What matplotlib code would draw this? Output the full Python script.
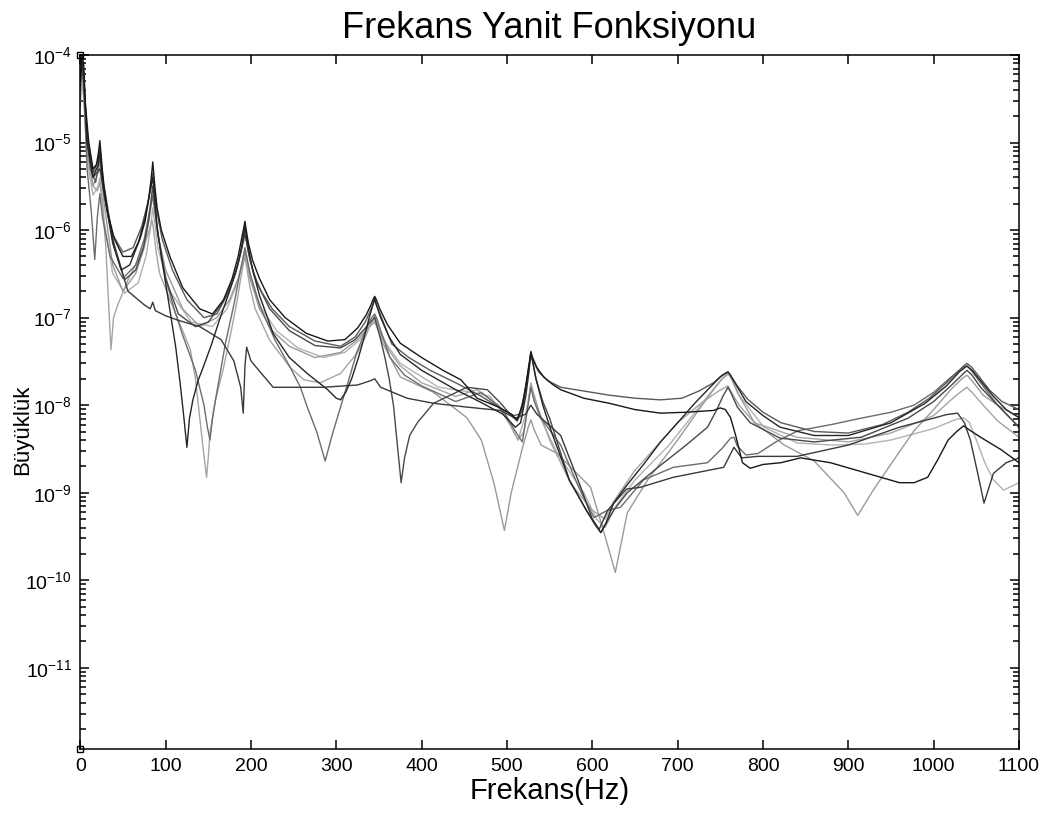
import matplotlib
matplotlib.use("Agg")
import matplotlib.pyplot as plt
from matplotlib.ticker import LogLocator, FixedLocator, NullLocator, LogFormatterSciNotation

plt.rcParams['font.family'] = ['Liberation Sans', 'DejaVu Sans']
plt.rcParams['mathtext.fontset'] = 'custom'
plt.rcParams['mathtext.rm'] = 'Liberation Sans'
plt.rcParams['mathtext.it'] = 'Liberation Sans:italic'
plt.rcParams['mathtext.bf'] = 'Liberation Sans:bold'
plt.rcParams['mathtext.default'] = 'regular'
plt.rcParams['axes.unicode_minus'] = False

# Frequency response magnitudes for nine measurement points (Hz, magnitude)
freq_k1 = [0, 2, 4, 6, 10, 15, 19, 21.5, 23, 24.5, 27, 32, 40, 50, 60, 70, 76, 80, 83, 85, 87,
           90, 95, 105, 120, 140, 155, 168, 178, 185, 189, 191.5, 193, 194.5, 197, 202, 210,
           222, 240, 265, 290, 310, 325, 335, 340, 343, 345, 347, 351, 360, 375, 400, 425,
           446, 465, 490, 505, 512, 518, 523, 526, 528, 530, 535, 543, 553, 563, 590, 620,
           650, 680, 710, 742, 750, 756, 762, 768, 776, 785, 800, 821, 844, 879, 910, 938,
           960, 977, 993, 1005, 1017, 1027, 1035, 1042, 1055, 1079, 1100]
mag_k1 = [5.6e-5, 1.0e-4, 7.9e-5, 2.8e-5, 1.0e-5, 5.0e-6, 5.6e-6, 7.9e-6, 1.05e-5, 7.1e-6,
          3.5e-6, 1.6e-6, 7.9e-7, 5.0e-7, 5.0e-7, 7.9e-7, 1.26e-6, 2.2e-6, 3.8e-6, 6.0e-6,
          3.5e-6, 1.8e-6, 1.0e-6, 5.0e-7, 2.2e-7, 1.26e-7, 1.1e-7, 1.6e-7, 2.8e-7, 5.0e-7,
          7.9e-7, 1.05e-6, 1.26e-6, 1.0e-6, 7.1e-7, 4.5e-7, 2.8e-7, 1.6e-7, 1.0e-7, 6.6e-8,
          5.4e-8, 5.6e-8, 7.6e-8, 1.07e-7, 1.35e-7, 1.6e-7, 1.75e-7, 1.6e-7, 1.26e-7, 8.3e-8,
          5.1e-8, 3.5e-8, 2.5e-8, 1.95e-8, 1.2e-8, 9.5e-9, 7.9e-9, 6.8e-9, 1.0e-8, 1.9e-8,
          3.0e-8, 4.1e-8, 3.5e-8, 2.7e-8, 2.1e-8, 1.74e-8, 1.5e-8, 1.2e-8, 1.05e-8, 8.9e-9,
          8.1e-9, 8.3e-9, 8.7e-9, 9.3e-9, 8.9e-9, 7.2e-9, 4.5e-9, 2.2e-9, 1.9e-9, 2.1e-9,
          2.2e-9, 2.5e-9, 2.2e-9, 1.8e-9, 1.5e-9, 1.3e-9, 1.3e-9, 1.5e-9, 2.4e-9, 4.0e-9,
          5.0e-9, 5.8e-9, 5.2e-9, 4.3e-9, 3.1e-9, 2.2e-9]

freq_k2 = [0, 2, 4, 7, 12, 18, 21.5, 23, 24.5, 28, 38, 50, 62, 72, 79, 83, 85, 87, 90, 96,
           108, 125, 145, 160, 172, 182, 188, 191.5, 193, 194.5, 197, 203, 212, 225, 245,
           275, 305, 322, 334, 340, 343, 345, 347, 352, 365, 385, 410, 440, 470, 495, 508,
           515, 521, 525, 528, 531, 537, 548, 563, 590, 620, 650, 680, 705, 725, 742, 752,
           759, 763, 770, 782, 800, 821, 860, 900, 940, 970, 995, 1015, 1028, 1035, 1039,
           1044, 1052, 1065, 1080, 1100]
mag_k2 = [4.0e-5, 7.1e-5, 5.0e-5, 1.6e-5, 5.0e-6, 3.5e-6, 5.6e-6, 7.1e-6, 5.0e-6, 2.5e-6,
          8.9e-7, 5.6e-7, 6.3e-7, 1.1e-6, 2.0e-6, 3.2e-6, 4.5e-6, 2.8e-6, 1.6e-6, 7.9e-7,
          3.5e-7, 1.6e-7, 1.0e-7, 1.1e-7, 1.8e-7, 3.2e-7, 5.6e-7, 8.3e-7, 1.0e-6, 7.9e-7,
          5.6e-7, 3.2e-7, 2.0e-7, 1.26e-7, 7.9e-8, 5.4e-8, 4.7e-8, 6.0e-8, 8.9e-8, 1.2e-7,
          1.4e-7, 1.6e-7, 1.4e-7, 1.07e-7, 5.0e-8, 3.5e-8, 2.5e-8, 1.8e-8, 1.26e-8, 8.9e-9,
          7.6e-9, 7.9e-9, 1.4e-8, 2.5e-8, 3.8e-8, 3.2e-8, 2.4e-8, 1.9e-8, 1.6e-8, 1.45e-8,
          1.3e-8, 1.2e-8, 1.15e-8, 1.2e-8, 1.45e-8, 1.8e-8, 2.2e-8, 2.4e-8, 2.1e-8, 1.66e-8,
          1.17e-8, 8.3e-9, 6.3e-9, 5.0e-9, 4.8e-9, 6.0e-9, 8.3e-9, 1.2e-8, 1.8e-8, 2.4e-8,
          2.8e-8, 3.0e-8, 2.75e-8, 2.2e-8, 1.5e-8, 1.1e-8, 8.9e-9]

freq_k3 = [0, 2, 4, 8, 15, 21, 23, 25, 30, 38, 48, 58, 68, 76, 81, 85, 87, 90, 95, 100, 105,
           112, 117, 121, 125, 128, 132, 138, 144, 154, 164, 175, 184, 189, 191.5, 193, 194.5,
           197, 202, 210, 226, 245, 266, 290, 300, 305, 311, 318, 326, 332, 338, 342, 345, 347,
           352, 362, 375, 400, 440, 470, 495, 510, 516, 522, 526, 528, 530, 534, 542, 552, 573,
           593, 604, 610, 616, 625, 640, 660, 680, 700, 720, 738, 750, 756, 759, 762, 768, 780,
           800, 820, 860, 900, 950, 990, 1015, 1030, 1039, 1045, 1055, 1070, 1085, 1100]
mag_k3 = [5.0e-5, 8.9e-5, 6.3e-5, 1.0e-5, 4.0e-6, 5.6e-6, 7.9e-6, 5.0e-6, 2.0e-6, 7.1e-7,
          3.5e-7, 4.0e-7, 7.1e-7, 1.4e-6, 2.5e-6, 4.0e-6, 2.5e-6, 1.1e-6, 5.0e-7, 2.5e-7,
          1.23e-7, 4.5e-8, 1.8e-8, 7.9e-9, 3.3e-9, 7.1e-9, 1.15e-8, 1.9e-8, 2.7e-8, 5.0e-8,
          1.0e-7, 2.0e-7, 3.8e-7, 6.3e-7, 8.9e-7, 1.1e-6, 8.9e-7, 6.3e-7, 3.5e-7, 1.8e-7,
          6.6e-8, 3.5e-8, 2.3e-8, 1.5e-8, 1.2e-8, 1.15e-8, 1.4e-8, 2.0e-8, 3.5e-8, 5.6e-8,
          9.5e-8, 1.3e-7, 1.66e-7, 1.4e-7, 1.0e-7, 6.0e-8, 3.8e-8, 2.5e-8, 1.5e-8, 1.07e-8,
          7.9e-9, 5.6e-9, 6.3e-9, 1.26e-8, 2.5e-8, 4.0e-8, 3.2e-8, 2.0e-8, 1.0e-8, 5.0e-9,
          1.4e-9, 6.3e-10, 4.2e-10, 3.5e-10, 4.5e-10, 7.6e-10, 1.2e-9, 2.1e-9, 3.8e-9, 6.3e-9,
          1.05e-8, 1.6e-8, 2.1e-8, 2.3e-8, 2.4e-8, 2.2e-8, 1.74e-8, 1.1e-8, 7.6e-9, 5.6e-9,
          4.5e-9, 4.5e-9, 6.3e-9, 1.05e-8, 1.66e-8, 2.4e-8, 2.8e-8, 2.5e-8, 1.9e-8, 1.26e-8,
          8.9e-9, 7.2e-9]

freq_k4 = [0, 2, 4, 8, 15, 20, 23, 26, 30, 33, 36, 39, 44, 56, 68, 76, 81, 84, 86, 89, 93,
           105, 118, 129, 135, 140, 144, 148, 150, 152, 158, 168, 177, 184, 188, 191, 193, 195,
           199, 205, 222, 246, 262, 281, 305, 325, 335, 341, 345, 348, 354, 362, 375, 400, 440,
           465, 490, 505, 513, 520, 525, 528, 531, 537, 550, 575, 600, 615, 625, 650, 700, 730,
           748, 756, 759, 763, 772, 790, 840, 900, 950, 1000, 1025, 1035, 1039, 1045, 1058,
           1075, 1100]
mag_k4 = [3.2e-5, 6.3e-5, 4.0e-5, 7.9e-6, 3.2e-6, 2.8e-6, 3.5e-6, 2.0e-6, 6.3e-7, 1.6e-7,
          4.3e-8, 1.0e-7, 1.4e-7, 2.7e-7, 4.6e-7, 7.1e-7, 1.0e-6, 1.3e-6, 1.0e-6, 5.6e-7,
          3.2e-7, 1.6e-7, 7.9e-8, 4.3e-8, 2.0e-8, 7.2e-9, 3.2e-9, 1.5e-9, 2.5e-9, 4.8e-9,
          1.1e-8, 2.7e-8, 7.1e-8, 1.6e-7, 2.8e-7, 4.0e-7, 5.0e-7, 3.8e-7, 2.2e-7, 1.26e-7,
          5.5e-8, 2.7e-8, 1.95e-8, 1.8e-8, 2.3e-8, 4.0e-8, 6.3e-8, 8.7e-8, 1.05e-7, 8.9e-8,
          6.3e-8, 4.2e-8, 2.8e-8, 1.8e-8, 1.26e-8, 1.5e-8, 1.0e-8, 5.6e-9, 4.0e-9, 5.0e-9,
          1.1e-8, 1.8e-8, 1.4e-8, 8.9e-9, 4.0e-9, 1.26e-9, 6.3e-10, 5.0e-10, 7.9e-10, 1.8e-9,
          6.3e-9, 1.1e-8, 1.45e-8, 1.6e-8, 1.66e-8, 1.4e-8, 1.0e-8, 6.3e-9, 4.3e-9, 3.8e-9,
          4.8e-9, 7.6e-9, 1.26e-8, 1.5e-8, 1.6e-8, 1.4e-8, 1.0e-8, 6.6e-9, 4.3e-9]

freq_k5 = [0, 2, 4, 8, 13, 17, 20, 23, 26, 35, 50, 65, 75, 81, 85, 87, 91, 100, 110, 120, 135,
           145, 149, 152, 155, 160, 170, 180, 187, 191, 193, 195, 199, 210, 228, 246, 258, 266,
           277, 287, 295, 305, 315, 324, 333, 340, 345, 348, 353, 363, 380, 400, 440, 470, 495,
           510, 518, 524, 528, 532, 540, 563, 585, 602, 618, 633, 660, 695, 735, 752, 762, 766,
           770, 780, 794, 815, 841, 880, 915, 950, 977, 1000, 1018, 1030, 1036, 1039, 1044,
           1055, 1075, 1100]
mag_k5 = [7.9e-5, 8.9e-5, 5.0e-5, 5.0e-6, 1.6e-6, 4.6e-7, 1.4e-6, 2.6e-6, 1.4e-6, 5.0e-7,
          2.8e-7, 4.0e-7, 7.9e-7, 1.6e-6, 2.5e-6, 1.8e-6, 8.9e-7, 2.8e-7, 1.26e-7, 6.3e-8,
          2.5e-8, 1.0e-8, 5.6e-9, 4.0e-9, 7.1e-9, 1.4e-8, 5.0e-8, 1.4e-7, 3.2e-7, 5.0e-7,
          6.3e-7, 5.0e-7, 3.2e-7, 1.4e-7, 5.6e-8, 2.7e-8, 1.6e-8, 9.5e-9, 5.0e-9, 2.3e-9,
          4.5e-9, 9.5e-9, 2.0e-8, 4.0e-8, 6.6e-8, 9.5e-8, 1.1e-7, 9.5e-8, 6.6e-8, 3.5e-8,
          2.2e-8, 1.66e-8, 1.1e-8, 1.4e-8, 8.9e-9, 5.0e-9, 3.8e-9, 8.9e-9, 1.6e-8, 1.1e-8,
          7.1e-9, 3.5e-9, 1.1e-9, 5.2e-10, 6.3e-10, 6.8e-10, 1.4e-9, 1.95e-9, 2.2e-9, 3.2e-9,
          4.2e-9, 4.3e-9, 3.4e-9, 2.7e-9, 2.8e-9, 3.8e-9, 5.1e-9, 6.0e-9, 7.1e-9, 8.3e-9,
          1.0e-8, 1.4e-8, 2.0e-8, 2.5e-8, 2.75e-8, 2.8e-8, 2.5e-8, 1.8e-8, 1.0e-8, 5.6e-9]

freq_k6 = [0, 3, 8, 15, 23, 30, 40, 56, 75, 82, 85, 88, 100, 115, 140, 165, 180, 188, 191, 193,
           195, 200, 226, 250, 285, 325, 340, 345, 352, 383, 414, 453, 492, 510, 522, 528,
           535, 563, 585, 600, 608, 618, 640, 656, 695, 754, 766, 775, 794, 840, 900, 960,
           1000, 1015, 1028, 1036, 1043, 1052, 1059, 1070, 1085, 1100]
mag_k6 = [6.3e-5, 7.9e-5, 1.0e-5, 4.0e-6, 5.0e-6, 2.0e-6, 6.3e-7, 2.0e-7, 1.4e-7, 1.26e-7,
          1.5e-7, 1.2e-7, 1.05e-7, 9.3e-8, 7.9e-8, 5.6e-8, 3.2e-8, 1.6e-8, 8.1e-9, 2.8e-8,
          4.6e-8, 3.2e-8, 1.6e-8, 1.6e-8, 1.6e-8, 1.7e-8, 1.9e-8, 2.0e-8, 1.6e-8, 1.2e-8,
          1.05e-8, 9.5e-9, 8.7e-9, 7.1e-9, 7.9e-9, 1.0e-8, 7.9e-9, 4.5e-9, 1.26e-9, 5.0e-10,
          3.8e-10, 6.3e-10, 1.1e-9, 1.15e-9, 1.5e-9, 1.95e-9, 3.3e-9, 2.5e-9, 2.6e-9, 2.6e-9,
          3.5e-9, 5.6e-9, 7.1e-9, 7.8e-9, 8.1e-9, 6.3e-9, 4.0e-9, 1.6e-9, 7.6e-10, 1.66e-9,
          2.2e-9, 2.5e-9]

freq_k7 = [0, 2, 4, 8, 15, 21, 23, 25, 28, 38, 52, 65, 74, 80, 85, 87, 91, 100, 115, 135, 150,
           165, 178, 186, 190, 193, 195, 199, 207, 222, 245, 275, 305, 322, 333, 340, 345, 348,
           352, 357, 362, 367, 371, 376, 380, 386, 395, 414, 453, 477, 492, 505, 512, 518, 523,
           526, 528, 530, 534, 542, 550, 573, 593, 610, 625, 641, 677, 710, 735, 746, 753, 759,
           763, 770, 785, 820, 860, 915, 970, 1000, 1020, 1033, 1039, 1045, 1055, 1075, 1100]
mag_k7 = [4.5e-5, 7.9e-5, 5.6e-5, 1.26e-5, 4.5e-6, 6.3e-6, 8.9e-6, 5.6e-6, 3.2e-6, 7.9e-7,
          2.7e-7, 3.5e-7, 6.3e-7, 1.26e-6, 3.2e-6, 2.0e-6, 8.9e-7, 2.8e-7, 1.1e-7, 7.9e-8,
          8.9e-8, 1.4e-7, 2.5e-7, 4.5e-7, 6.6e-7, 8.9e-7, 7.1e-7, 4.5e-7, 2.5e-7, 1.26e-7,
          7.1e-8, 4.8e-8, 4.5e-8, 5.6e-8, 7.4e-8, 8.9e-8, 1.0e-7, 7.9e-8, 5.6e-8, 3.5e-8,
          2.0e-8, 1.0e-8, 4.0e-9, 1.3e-9, 2.5e-9, 4.5e-9, 6.3e-9, 1.05e-8, 1.6e-8, 1.5e-8,
          1.07e-8, 7.6e-9, 6.6e-9, 8.9e-9, 1.8e-8, 2.8e-8, 3.8e-8, 3.2e-8, 2.0e-8, 1.1e-8,
          7.1e-9, 1.4e-9, 6.3e-10, 3.5e-10, 6.3e-10, 1.0e-9, 1.95e-9, 3.5e-9, 5.6e-9, 8.9e-9,
          1.26e-8, 1.6e-8, 1.35e-8, 9.5e-9, 6.3e-9, 4.2e-9, 3.8e-9, 4.3e-9, 7.1e-9, 1.1e-8,
          1.66e-8, 2.2e-8, 2.5e-8, 2.2e-8, 1.6e-8, 1.0e-8, 5.6e-9]

freq_k8 = [0, 2, 4, 8, 15, 21, 23, 25, 28, 38, 50, 65, 75, 81, 85, 87, 91, 100, 120, 140, 160,
           175, 185, 190, 193, 195, 199, 210, 225, 245, 275, 305, 325, 337, 345, 348, 355, 375,
           414, 453, 470, 485, 497, 505, 518, 525, 528, 532, 540, 559, 598, 612, 627, 641, 665,
           700, 725, 742, 752, 759, 763, 770, 790, 825, 860, 895, 911, 930, 955, 977, 1000,
           1020, 1033, 1039, 1045, 1058, 1075, 1100]
mag_k8 = [4.0e-5, 6.3e-5, 4.5e-5, 7.9e-6, 3.2e-6, 4.5e-6, 6.3e-6, 4.0e-6, 2.0e-6, 4.0e-7,
          2.0e-7, 3.2e-7, 6.3e-7, 1.4e-6, 2.5e-6, 1.8e-6, 8.9e-7, 3.5e-7, 1.26e-7, 7.9e-8,
          1.0e-7, 1.6e-7, 2.8e-7, 4.2e-7, 5.6e-7, 4.5e-7, 2.8e-7, 1.26e-7, 7.1e-8, 4.7e-8,
          3.5e-8, 4.0e-8, 5.6e-8, 7.6e-8, 8.9e-8, 7.6e-8, 5.0e-8, 2.1e-8, 1.4e-8, 7.2e-9,
          4.0e-9, 1.26e-9, 3.7e-10, 1.0e-9, 3.2e-9, 5.6e-9, 6.8e-9, 5.2e-9, 3.5e-9, 2.8e-9,
          1.15e-9, 4.0e-10, 1.23e-10, 5.9e-10, 1.4e-9, 4.0e-9, 8.9e-9, 1.5e-8, 2.0e-8, 2.3e-8,
          2.0e-8, 1.4e-8, 6.3e-9, 3.5e-9, 2.3e-9, 1.0e-9, 5.5e-10, 1.1e-9, 2.5e-9, 5.1e-9,
          8.9e-9, 1.5e-8, 2.0e-8, 2.2e-8, 1.9e-8, 1.3e-8, 1.0e-8, 7.2e-9]

freq_k9 = [0, 2, 4, 8, 15, 21, 23, 25, 28, 38, 52, 68, 77, 82, 85, 87, 91, 105, 130, 155, 172,
           184, 190, 193, 195, 199, 212, 230, 255, 285, 310, 328, 338, 345, 348, 355, 375, 420,
           460, 480, 500, 513, 522, 526, 528, 531, 537, 559, 590, 605, 615, 628, 650, 690, 715,
           735, 750, 760, 764, 772, 785, 801, 840, 880, 920, 950, 1000, 1025, 1035, 1042, 1050,
           1060, 1070, 1082, 1100]
mag_k9 = [2.5e-5, 5.0e-5, 3.2e-5, 6.3e-6, 2.5e-6, 3.2e-6, 4.0e-6, 2.8e-6, 1.26e-6, 3.2e-7,
          1.9e-7, 2.5e-7, 5.0e-7, 1.0e-6, 1.8e-6, 1.26e-6, 6.3e-7, 2.0e-7, 8.9e-8, 7.9e-8,
          1.26e-7, 2.5e-7, 4.2e-7, 5.6e-7, 4.5e-7, 2.8e-7, 1.3e-7, 7.1e-8, 4.5e-8, 3.5e-8,
          4.0e-8, 5.6e-8, 7.6e-8, 9.5e-8, 7.9e-8, 5.6e-8, 3.0e-8, 1.6e-8, 1.4e-8, 1.26e-8,
          7.1e-9, 4.0e-9, 7.9e-9, 1.3e-8, 1.66e-8, 1.3e-8, 7.9e-9, 2.8e-9, 1.0e-9, 5.0e-10,
          4.0e-10, 7.1e-10, 1.4e-9, 3.5e-9, 7.1e-9, 1.26e-8, 1.9e-8, 2.3e-8, 2.0e-8, 1.3e-8,
          8.9e-9, 5.6e-9, 3.7e-9, 3.5e-9, 3.6e-9, 4.0e-9, 5.4e-9, 6.8e-9, 7.2e-9, 6.3e-9,
          4.0e-9, 2.2e-9, 1.4e-9, 1.07e-9, 1.3e-9]

x_ticks = [0, 100, 200, 300, 400, 500, 600, 700, 800, 900, 1000, 1100]
y_ticks = [1e-11, 1e-10, 1e-9, 1e-8, 1e-7, 1e-6, 1e-5, 1e-4]
y_limits = [1.17e-12, 1.0e-4]

series = [
    (freq_k9, mag_k9, '#b2b2b2'),
    (freq_k4, mag_k4, '#a4a4a4'),
    (freq_k8, mag_k8, '#9a9a9a'),
    (freq_k5, mag_k5, '#6c6c6c'),
    (freq_k2, mag_k2, '#5a5a5a'),
    (freq_k7, mag_k7, '#484848'),
    (freq_k6, mag_k6, '#3a3a3a'),
    (freq_k3, mag_k3, '#262626'),
    (freq_k1, mag_k1, '#181818'),
]

fig = plt.figure(figsize=(10.49, 8.16), dpi=100)
ax = fig.add_axes([0.0765, 0.0817, 0.8949, 0.8509])

for f, m, c in series:
    ax.plot(f, m, color=c, lw=1.0, solid_joinstyle='round')

# small square markers at the ends of the plotted frame
ax.plot([0, 0], y_limits, linestyle='none', marker='s', markersize=5,
        markerfacecolor='none', markeredgecolor='black', markeredgewidth=1.0,
        clip_on=False, zorder=5)

ax.set_yscale('log')
ax.set_xlim(0, 1100)
ax.set_ylim(*y_limits)

ax.xaxis.set_major_locator(FixedLocator(x_ticks))
ax.xaxis.set_minor_locator(NullLocator())
ax.yaxis.set_major_locator(FixedLocator(y_ticks))
ax.yaxis.set_minor_locator(LogLocator(base=10, subs=range(2, 10), numticks=20))
ax.yaxis.set_major_formatter(LogFormatterSciNotation())

ax.tick_params(which='both', direction='in', top=True, right=True, width=1.1, colors='black')
ax.tick_params(which='major', length=6.5, labelsize=14, pad=6)
ax.tick_params(which='minor', length=4)
for s in ax.spines.values():
    s.set_linewidth(1.1)

ax.set_title('Frekans Yanit Fonksiyonu', fontsize=26, pad=12)
ax.set_xlabel('Frekans(Hz)', fontsize=21, labelpad=2)
ax.set_ylabel('Büyüklük', fontsize=16)
ax.yaxis.set_label_coords(-0.05, 0.46)

fig.savefig('out.png', dpi=100)
